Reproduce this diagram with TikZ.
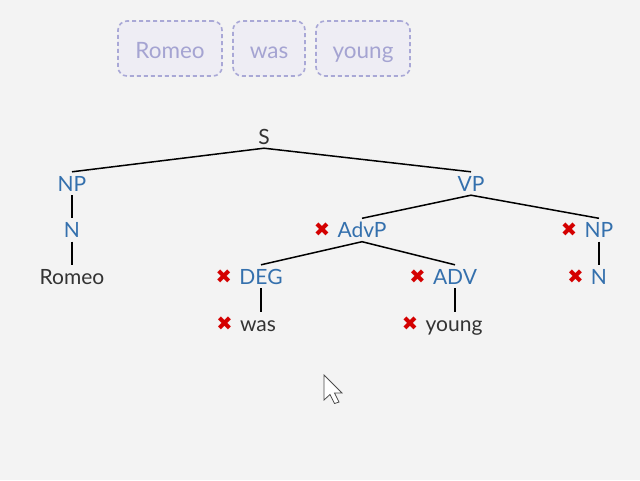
\documentclass[tikz,border=0pt]{standalone}
\usepackage{fontspec}
\setmainfont{Lato}
\newfontfamily\markfont{DejaVu Sans}
\definecolor{bgc}{HTML}{F3F3F3}
\definecolor{labblue}{HTML}{3470AD}
\definecolor{wordc}{HTML}{333333}
\definecolor{markred}{HTML}{D40000}
\definecolor{boxline}{HTML}{A9A8D6}
\definecolor{boxfill}{HTML}{EEEDF4}
\definecolor{boxtext}{HTML}{A5A4D2}
\tikzset{
  lab/.style={font=\fontsize{21}{25}\selectfont, text=labblue, inner sep=0pt, anchor=base, text height=15pt, text depth=0pt},
  word/.style={lab, text=wordc},
  xmark/.style={font=\markfont\fontsize{19.5}{23}\selectfont, text=markred, inner sep=0pt, anchor=east},
  wordbox/.style={draw=boxline, fill=boxfill, dashed, dash pattern=on 4pt off 3pt, line width=1.6pt, rounded corners=9pt, text=boxtext, font=\fontsize{22.5}{26}\selectfont, minimum height=55pt, inner sep=0pt, text height=19.5pt, text depth=0pt},
  edge/.style={line width=1.5pt, draw=black}
}
\begin{document}
\begin{tikzpicture}[x=1pt,y=-1pt]
\fill[bgc] (0,0) rectangle (640,480);
\useasboundingbox (0,0) rectangle (640,480);
% word boxes
\node[wordbox, minimum width=104pt] (bRomeo) at (170,48.5) {Romeo};
\node[wordbox, minimum width=72pt] (bwas) at (269,48.5) {was};
\node[wordbox, minimum width=94pt] (byoung) at (363,48.5) {young};
% tree labels
\node[word] (S) at (264,144) {S};
\node[lab] (NPl) at (72,191) {NP};
\node[lab] (VP) at (471,191) {VP};
\node[lab] (Nl) at (72,237.5) {N};
\node[lab] (AdvP) at (362,237.5) {AdvP};
\node[lab] (NPr) at (599,237.5) {NP};
\node[word] (Romeo) at (72,284) {Romeo};
\node[lab] (DEG) at (261,284) {DEG};
\node[lab] (ADV) at (455,284) {ADV};
\node[lab] (Nr) at (599,284) {N};
\node[word] (was) at (258,331) {was};
\node[word] (young) at (454,331) {young};
% marks
\node[xmark] (mAdvP) at ([xshift=-7pt]AdvP.west) {✖};
\node[xmark] (mNPr) at ([xshift=-7pt]NPr.west) {✖};
\node[xmark] (mDEG) at ([xshift=-7pt]DEG.west) {✖};
\node[xmark] (mADV) at ([xshift=-7pt]ADV.west) {✖};
\node[xmark] (mNr) at ([xshift=-7pt]Nr.west) {✖};
\node[xmark] (mwas) at ([xshift=-7pt]was.west) {✖};
\node[xmark] (myoung) at ([xshift=-7pt]young.west) {✖};
% edges
\draw[edge] ([yshift=-4pt]S.south) -- ([yshift=4pt]NPl.north);
\draw[edge] ([yshift=-4pt]S.south) -- ([yshift=4pt]VP.north);
\draw[edge] ([yshift=-4pt]NPl.south) -- ([yshift=4pt]Nl.north);
\draw[edge] ([yshift=-4pt]Nl.south) -- ([yshift=4pt]Romeo.north);
\draw[edge] ([yshift=-4pt]VP.south) -- ([yshift=4pt]AdvP.north);
\draw[edge] ([yshift=-4pt]VP.south) -- ([yshift=4pt]NPr.north);
\draw[edge] ([yshift=-4pt]AdvP.south) -- ([yshift=4pt]DEG.north);
\draw[edge] ([yshift=-4pt]AdvP.south) -- ([yshift=4pt]ADV.north);
\draw[edge] ([yshift=-4pt]NPr.south) -- ([yshift=4pt]Nr.north);
\draw[edge] ([yshift=-4pt]DEG.south) -- ([yshift=4pt]DEG.south |- was.north);
\draw[edge] ([yshift=-4pt]ADV.south) -- ([yshift=4pt]ADV.south |- young.north);
% cursor
\draw[fill=white, draw=black!70, line width=0.8pt, line join=miter]
  (324,375) -- ++(0,25) -- ++(6,-5.5) -- ++(4.5,9) -- ++(4.5,-1.5) -- ++(-4.5,-9) -- ++(7.5,0) -- cycle;
\end{tikzpicture}
\end{document}
